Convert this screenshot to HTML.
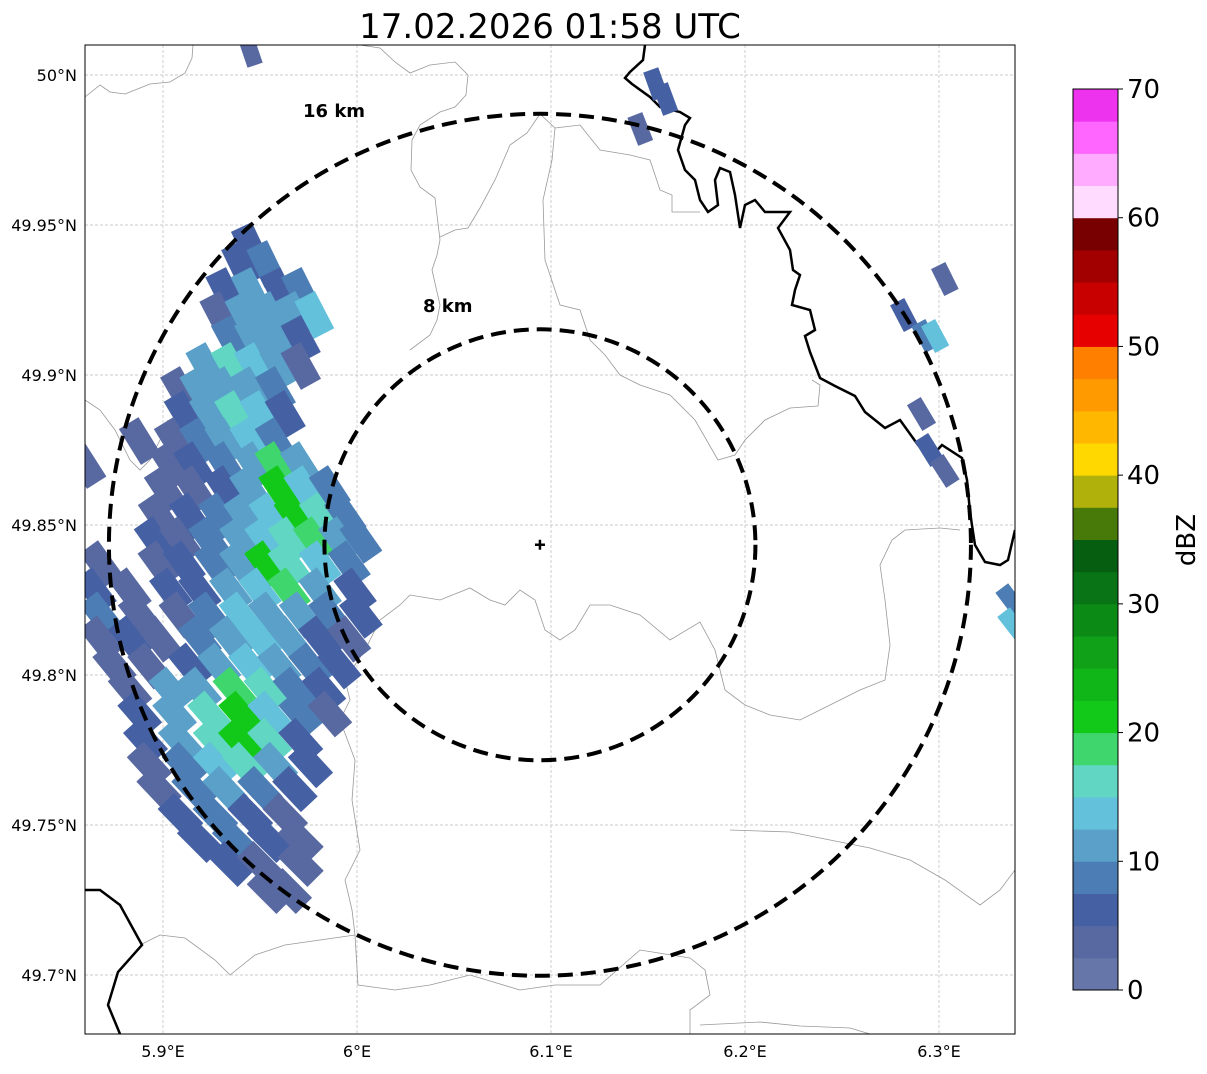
<!DOCTYPE html>
<html><head><meta charset="utf-8">
<style>
html,body{margin:0;padding:0;background:#fff;}
body{width:1207px;height:1069px;overflow:hidden;font-family:"Liberation Sans","DejaVu Sans",sans-serif;}
svg text{font-family:"DejaVu Sans","Liberation Sans",sans-serif;}
</style></head>
<body>
<svg id="chart" width="1207" height="1069" viewBox="0 0 1207 1069" xmlns="http://www.w3.org/2000/svg">
<text x="550" y="38" text-anchor="middle" font-size="34" fill="#000">17.02.2026 01:58 UTC</text>
<defs><clipPath id="mapclip"><rect x="85" y="45" width="930" height="989"/></clipPath></defs>
<g id="grid"></g>
<g id="borders" clip-path="url(#mapclip)" fill="none">
<path stroke="#999" stroke-width="0.8" d="M85,97 L100,85 L110,92 L125,94 L150,84 L170,82 L185,73 L192,58 L193,45"/>
<path stroke="#999" stroke-width="0.8" d="M360,45 L380,48 L395,62 L410,73 L430,65 L455,62 L468,75 L466,95 L455,107 L440,112 L420,125 L412,140 L411,170 L420,187 L435,198 L437,215 L440,240 L437,255 L432,270 L440,305 L437,320 L430,335 L410,350"/>
<path stroke="#999" stroke-width="0.8" d="M440,237 L455,230 L468,228 L480,208 L495,180 L510,145 L527,133 L540,114 L555,128 L552,160 L543,200 L545,260 L560,305 L580,310 L590,340 L605,355 L620,375 L640,385 L670,395 L695,420 L718,460 L735,455 L745,440 L765,420 L790,408 L818,406 L820,385 L812,380"/>
<path stroke="#999" stroke-width="0.8" d="M555,128 L580,125 L600,150 L630,155 L650,160 L660,190 L672,195 L672,212 L700,212"/>
<path stroke="#999" stroke-width="0.8" d="M85,400 L100,410 L115,430 L130,460 L140,470 L150,460 L160,440 L168,420"/>
<path stroke="#999" stroke-width="0.8" d="M340,720 L350,700 L345,680 L365,650 L380,620 L400,605 L410,595 L440,600 L470,588 L490,600 L505,605 L520,590 L535,600 L545,630 L560,640 L575,630 L590,605 L610,605 L640,615 L670,640 L700,622 L715,650 L725,690 L745,705 L770,715 L800,720 L830,705 L860,690 L885,680 L890,645 L885,600 L880,565 L892,540 L905,530 L940,528 L960,530"/>
<path stroke="#999" stroke-width="0.8" d="M340,720 L355,760 L352,800 L360,850 L345,880 L352,910 L355,935 L358,985 L395,990 L430,985 L470,975 L520,990 L555,985 L600,985 L640,950 L690,958 L705,970 L710,995 L690,1010 L690,1034"/>
<path stroke="#999" stroke-width="0.8" d="M140,945 L160,935 L185,938 L215,960 L230,975 L255,955 L285,945 L320,940 L355,935"/>
<path stroke="#999" stroke-width="0.8" d="M730,830 L790,832 L830,840 L870,848 L910,860 L945,880 L980,905 L1000,890 L1015,870"/>
<path stroke="#999" stroke-width="0.8" d="M700,1025 L760,1022 L800,1026 L850,1028 L870,1034"/>
<path stroke="#000" stroke-width="2.5" d="M645,45 L643,60 L630,72 L625,78 L632,84 L650,97 L660,107 L680,112 L690,118 L685,125 L678,150 L685,170 L695,180 L700,200 L708,212 L718,205 L715,180 L720,168 L730,172 L735,195 L740,228 L745,205 L755,200 L765,212 L790,212 L778,228 L790,250 L793,270 L800,275 L795,290 L792,305 L810,310 L815,330 L805,336 L810,352 L820,378 L835,386 L855,396 L865,412 L885,428 L900,420 L918,445 L930,458 L942,445 L962,458 L967,480 L970,512 L975,545 L985,562 L1000,565 L1008,560 L1015,530"/>
<path stroke="#000" stroke-width="2.5" d="M85,890 L100,890 L120,905 L142,945 L118,972 L108,1005 L120,1034"/>
</g>
<g id="echoes" clip-path="url(#mapclip)"></g>
<g id="rings"></g>
<rect x="85" y="45" width="930" height="989" fill="none" stroke="#000" stroke-width="1"/>
<g id="axes"></g>
<g id="cbar"></g>
<text x="1195" y="540" font-size="26" text-anchor="middle" transform="rotate(-90 1195 540)" fill="#000">dBZ</text>
</svg>
<script>
// ---- data ----
const lonTicks = [5.9, 6.0, 6.1, 6.2, 6.3];
const lonLabels = ["5.9°E", "6°E", "6.1°E", "6.2°E", "6.3°E"];
const latTicks = [50.0, 49.95, 49.9, 49.85, 49.8, 49.75, 49.7];
const latLabels = ["50°N", "49.95°N", "49.9°N", "49.85°N", "49.8°N", "49.75°N", "49.7°N"];
const cbarTicks = [0, 10, 20, 30, 40, 50, 60, 70];
const cbarColors = ["#6676a8","#5869a2","#4561a4","#4c7db4","#5aa0c9","#63c1db","#60d6c3","#3fd66d","#12c91a","#10b517","#10a119","#0b8b15","#097416","#065f10","#477a09","#b0b10a","#ffd800","#ffb700","#ff9a00","#ff7f00","#e60000","#c80000","#a20000","#780000","#ffdcff","#ffabff","#ff66ff","#ee33ee"];
const radarLon = 6.0943, radarLat = 49.8434;
const ringKm = [8, 16];
const rowLat = [49.943,49.937,49.928,49.920,49.912,49.903,49.895,49.887,49.878,49.870,49.862,49.853,49.845,49.837,49.828,49.820,49.812,49.803,49.795,49.787,49.778,49.770,49.762,49.753,49.745,49.737,49.728];
const rowLon = [
 [5.945],
 [5.940,5.953],
 [5.932,5.945,5.960,5.971],
 [5.929,5.942,5.955,5.968,5.978],
 [5.935,5.947,5.960,5.971],
 [5.922,5.935,5.947,5.960,5.971],
 [5.909,5.919,5.932,5.945,5.958],
 [5.911,5.924,5.937,5.950,5.963],
 [5.888,5.906,5.919,5.932,5.945,5.958],
 [5.860,5.904,5.916,5.932,5.947,5.958,5.971],
 [5.901,5.916,5.932,5.945,5.960,5.973,5.986],
 [5.898,5.914,5.929,5.942,5.955,5.968,5.981,5.994],
 [5.896,5.909,5.924,5.940,5.953,5.965,5.978,5.991,6.002],
 [5.868,5.898,5.911,5.927,5.940,5.953,5.965,5.981,5.996],
 [5.865,5.883,5.904,5.919,5.935,5.950,5.965,5.981,5.999],
 [5.868,5.888,5.909,5.924,5.940,5.955,5.971,5.986,6.002],
 [5.868,5.883,5.898,5.919,5.935,5.950,5.965,5.981,5.996],
 [5.875,5.893,5.914,5.929,5.945,5.960,5.976,5.991],
 [5.883,5.904,5.919,5.937,5.953,5.968,5.983],
 [5.888,5.906,5.924,5.940,5.955,5.971,5.986],
 [5.891,5.909,5.927,5.940,5.955,5.971],
 [5.893,5.911,5.927,5.942,5.958,5.976],
 [5.898,5.916,5.932,5.950,5.968],
 [5.909,5.927,5.945,5.963],
 [5.919,5.937,5.955,5.971],
 [5.935,5.950,5.971],
 [5.955,5.965]
];
const rowDbz = [
 [5],
 [5,8],
 [5,10,5,8],
 [3,10,12,10,13],
 [8,10,12,5],
 [10,17,13,10,3],
 [3,10,12,12,8],
 [5,12,17,13,5],
 [3,3,8,10,13,8],
 [3,3,5,8,12,18,10],
 [3,3,5,10,20,13,8],
 [3,5,8,10,13,20,15,8],
 [5,3,8,10,13,15,18,12,8],
 [3,3,5,8,12,20,17,13,8],
 [5,3,5,5,10,13,18,12,5],
 [8,3,3,8,13,12,10,8,5],
 [3,5,3,8,10,13,10,5,3],
 [3,3,5,10,13,12,8,5],
 [3,10,12,18,15,8,5],
 [5,12,17,20,13,8,3],
 [5,10,17,20,15,5],
 [3,8,13,15,10,5],
 [3,8,10,8,5],
 [5,8,5,3],
 [5,8,5,3],
 [5,3,3],
 [3,3]
];
const extraLon = [5.945,6.154,6.159,6.146,6.303,6.282,6.293,6.298,6.291,6.295,6.303,6.337,6.338];
const extraLat = [50.008,49.997,49.992,49.982,49.932,49.920,49.913,49.913,49.887,49.875,49.868,49.825,49.817];
const extraDbz = [3,5,5,3,3,5,8,13,3,5,3,8,13];

// ---- axis functions ----
const X0=85, X1=1015, Y0=45, Y1=1034;
function xScale(lon){ return 163 + (lon-5.9)*1940; }
function yScale(lat){ return 75 + (50-lat)*3000; }
const CB_X=1073, CB_W=45, CB_TOP=89, CB_BOT=990;
function cbScale(v){ return CB_BOT - v/70*(CB_BOT-CB_TOP); }
function colorFor(d){ return cbarColors[Math.max(0,Math.min(27,Math.floor(d/2.5)))]; }
const NS="http://www.w3.org/2000/svg";
function mk(tag, attrs, parent){ const e=document.createElementNS(NS,tag); for(const k in attrs) e.setAttribute(k,attrs[k]); parent.appendChild(e); return e; }

// grid & ticks
const grid=document.getElementById('grid'), axes=document.getElementById('axes');
lonTicks.forEach((lon,i)=>{
  const x=xScale(lon);
  const l=mk('line',{x1:x,x2:x,y1:Y0,y2:Y1,stroke:'#bbb','stroke-width':0.7,'stroke-dasharray':'3,2'},grid);
  
  
  const t=mk('text',{x:x,y:1057,'font-size':16,'text-anchor':'middle',fill:'#000'},axes);
  t.textContent=lonLabels[i];
  
  
});
latTicks.forEach((lat,i)=>{
  const y=yScale(lat);
  const l=mk('line',{x1:X0,x2:X1,y1:y,y2:y,stroke:'#bbb','stroke-width':0.7,'stroke-dasharray':'3,2'},grid);
  
  
  const t=mk('text',{x:77,y:y+6,'font-size':16,'text-anchor':'end',fill:'#000'},axes);
  t.textContent=latLabels[i];
  
  
});

// echoes
const echoes=document.getElementById('echoes');
function cell(lon,lat,d,w,h){
  const x=xScale(lon), y=yScale(lat);
  const rot=Math.max(-45,-25-(y-240)/30);
  const r=mk('rect',{x:x-w/2,y:y-h/2,width:w,height:h,fill:colorFor(d),transform:'rotate('+rot.toFixed(1)+' '+x.toFixed(1)+' '+y.toFixed(1)+')'},echoes);
  
  
}
rowLat.forEach((lat,i)=>{ rowLon[i].forEach((lon,j)=>cell(lon,lat,rowDbz[i][j],23,42)); });
extraLon.forEach((lon,i)=>cell(lon,extraLat[i],extraDbz[i],16,30));

// range rings
const rings=document.getElementById('rings');
const cx=xScale(radarLon), cy=yScale(radarLat);
const pxPerKm=431/16;
ringKm.forEach(km=>{
  const c=mk('circle',{cx:cx,cy:cy,r:km*pxPerKm,fill:'none',stroke:'#000','stroke-width':4,'stroke-dasharray':'15,8'},rings);
  
  
});
const l16=mk('text',{x:303,y:117,'font-size':18,'font-weight':'bold',fill:'#000'},rings);
l16.textContent='16 km';


const l8=mk('text',{x:423,y:312,'font-size':18,'font-weight':'bold',fill:'#000'},rings);
l8.textContent='8 km';


const mark=mk('path',{d:`M${cx-5},${cy} H${cx+5} M${cx},${cy-5} V${cy+5}`,stroke:'#000','stroke-width':2.5},rings);



// colorbar
const cbar=document.getElementById('cbar');
cbarColors.forEach((c,i)=>{
  const yTop=cbScale((i+1)*2.5), yB=cbScale(i*2.5);
  const r=mk('rect',{x:CB_X,y:yTop,width:CB_W,height:yB-yTop+0.5,fill:c},cbar);
  
  
});
const fr=mk('rect',{x:CB_X,y:CB_TOP,width:CB_W,height:CB_BOT-CB_TOP,fill:'none',stroke:'#000','stroke-width':1},cbar);


cbarTicks.forEach(v=>{
  const y=cbScale(v);
  const tk=mk('line',{x1:CB_X+CB_W,x2:CB_X+CB_W+5,y1:y,y2:y,stroke:'#000','stroke-width':1},cbar);
  
  
  const t=mk('text',{x:CB_X+CB_W+9,y:y+9,'font-size':26,fill:'#000'},cbar);
  t.textContent=String(v);
  
  
});
</script>
</body></html>
